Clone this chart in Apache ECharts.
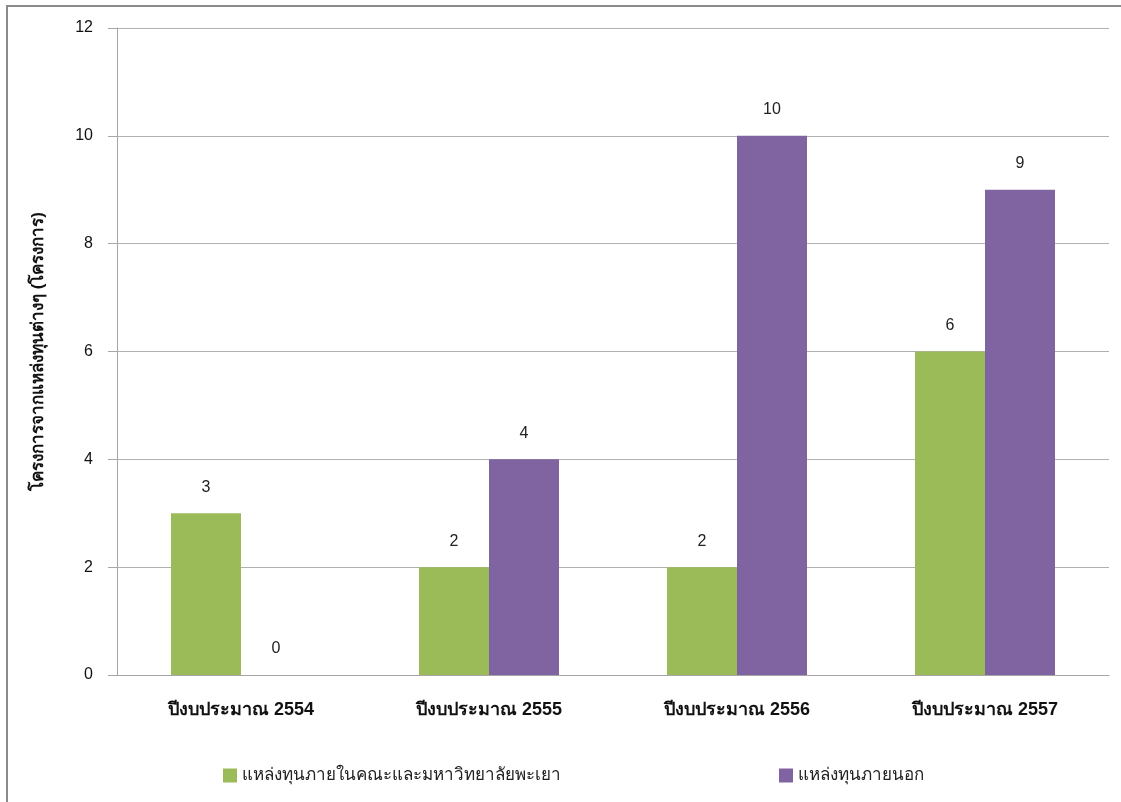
<!DOCTYPE html>
<html><head><meta charset="utf-8">
<script src="https://cdn.jsdelivr.net/npm/echarts@6/dist/echarts.min.js"></script>
<style>html,body{margin:0;padding:0;background:#fff}#c{width:1121px;height:802px}</style>
</head><body><div id="c"></div>
<script>
const categories = ['ปีงบประมาณ 2554','ปีงบประมาณ 2555','ปีงบประมาณ 2556','ปีงบประมาณ 2557'];
const internalFunds = [3, 2, 2, 6];
const externalFunds = [0, 4, 10, 9];
const seriesNames = ['แหล่งทุนภายในคณะและมหาวิทยาลัยพะเยา', 'แหล่งทุนภายนอก'];
const yAxisName = 'โครงการจากแหล่งทุนต่างๆ (โครงการ)';

const chart = echarts.init(document.getElementById('c'));
const font = "'Liberation Sans', 'Noto Sans', 'DejaVu Sans', sans-serif";
chart.setOption({
  animation: false,
  textStyle: {fontFamily: font},
  graphic: [{
    type: 'rect', shape: {x: 7, y: 6, width: 1130, height: 820},
    style: {fill: 'none', stroke: '#8a8a8a', lineWidth: 2}, z: 100
  }],
  grid: {left: 117, right: 12, top: 28, bottom: 127},
  legend: [
    {data: [seriesNames[0]], left: 218, top: 762, itemWidth: 14, itemHeight: 14, icon: 'rect', itemGap: 6,
     textStyle: {fontSize: 17, color: '#222', fontFamily: font}},
    {data: [seriesNames[1]], left: 774, top: 762, itemWidth: 14, itemHeight: 14, icon: 'rect',
     textStyle: {fontSize: 17, color: '#222', fontFamily: font}}
  ],
  xAxis: {
    type: 'category', data: categories,
    axisLine: {lineStyle: {color: '#a6a6a6'}},
    axisTick: {show: false},
    axisLabel: {color: '#111', fontSize: 18, fontWeight: 'bold', margin: 26, fontFamily: font}
  },
  yAxis: {
    type: 'value', min: 0, max: 12, interval: 2,
    name: yAxisName, nameLocation: 'middle', nameGap: 70,
    nameTextStyle: {fontSize: 17, fontWeight: 'bold', color: '#111', fontFamily: font},
    axisLine: {show: true, lineStyle: {color: '#a6a6a6'}},
    axisTick: {show: true, length: 9, lineStyle: {color: '#a6a6a6'}},
    axisLabel: {color: '#111', fontSize: 16, margin: 24, fontFamily: font},
    splitLine: {lineStyle: {color: '#b0b0b0'}}
  },
  series: [
    {name: seriesNames[0], type: 'bar', data: internalFunds, barWidth: 70, barGap: '0%',
     itemStyle: {color: '#9BBB59'},
     label: {show: true, position: 'top', distance: 18, color: '#222', fontSize: 16, fontFamily: font}},
    {name: seriesNames[1], type: 'bar', data: externalFunds, barWidth: 70, barGap: '0%',
     itemStyle: {color: '#8064A2'},
     label: {show: true, position: 'top', distance: 18, color: '#222', fontSize: 16, fontFamily: font}}
  ]
});
</script></body></html>
